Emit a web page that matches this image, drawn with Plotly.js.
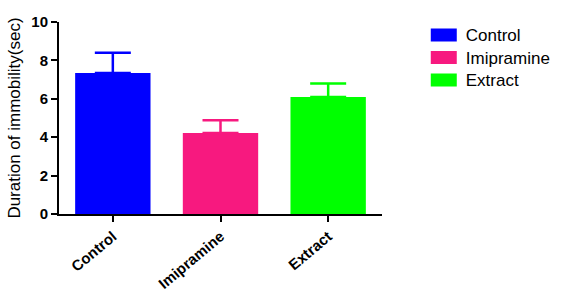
<!DOCTYPE html>
<html><head><meta charset="utf-8">
<script src="https://cdn.plot.ly/plotly-3.0.1.min.js"></script>
<style>body{margin:0;background:#fff}#c{width:567px;height:293px}</style>
</head><body><div id="c"></div>
<script>
const categories = ["Control", "Imipramine", "Extract"];
const means = [7.35, 4.22, 6.1];
const sems = [1.05, 0.66, 0.7];
const colors = ["#0000ff", "#f7197f", "#00ff00"];
const yTicks = [0, 2, 4, 6, 8, 10];

const traces = categories.map((c, i) => ({
  type: 'bar', x: [c], y: [means[i]], name: c, width: 0.7,
  marker: {color: colors[i], line: {width: 0}},
  error_y: {type: 'data', array: [sems[i]], arrayminus: [0], symmetric: false,
            color: colors[i], thickness: 2.5, width: 18}
}));

const layout = {
  width: 567, height: 293,
  margin: {l: 59, r: 185, t: 22, b: 79},
  paper_bgcolor: '#fff', plot_bgcolor: '#fff',
  font: {family: 'Liberation Sans, Arial, sans-serif', color: '#000'},
  barmode: 'overlay',
  showlegend: true,
  legend: {xref: 'container', yref: 'container', x: 0.728, y: 0.942,
           xanchor: 'left', yanchor: 'top',
           font: {size: 17, family: 'Liberation Sans, Arial'}, tracegroupgap: 0,
           itemwidth: 40},
  xaxis: {
    type: 'category', categoryarray: categories, range: [-0.5, 2.5], automargin: false,
    showline: true, linecolor: '#000', linewidth: 2, showgrid: false, zeroline: false,
    ticks: 'outside', ticklen: 6, tickwidth: 2, tickcolor: '#000',
    tickangle: -40, tickfont: {size: 15, family: 'Liberation Sans, Arial', weight: 'bold'}
  },
  yaxis: {
    range: [0, 10], tickvals: yTicks, ticktext: yTicks.map(String), automargin: false,
    showline: true, linecolor: '#000', linewidth: 2, showgrid: false, zeroline: false,
    ticks: 'outside', ticklen: 6, tickwidth: 2, tickcolor: '#000',
    tickfont: {size: 15, family: 'Liberation Sans, Arial', weight: 'bold'},
    title: {text: 'Duration of immobility(sec)', font: {size: 17}, standoff: 6}
  }
};

Plotly.newPlot('c', traces, layout, {staticPlot: true}).then(() => {
  document.querySelectorAll('.legendpoints path').forEach(p => {
    p.setAttribute('d', 'M-7,-6H19V7H-7Z');
  });
  document.querySelectorAll('.legendtext').forEach(t => {
    t.setAttribute('x', '53');
  });
  const items = document.querySelectorAll('.legend .traces');
  items.forEach((g, i) => {
    const m = /translate\(([-\d.]+)[ ,]+([-\d.]+)\)/.exec(g.getAttribute('transform') || '');
    if (m) {
      const x0 = parseFloat(m[1]);
      const y0 = parseFloat(/translate\(([-\d.]+)[ ,]+([-\d.]+)\)/.exec(items[0].getAttribute('transform'))[2]);
      g.setAttribute('transform', 'translate(' + x0 + ',' + (y0 + i * 22.5) + ')');
    }
  });
});
</script></body></html>
